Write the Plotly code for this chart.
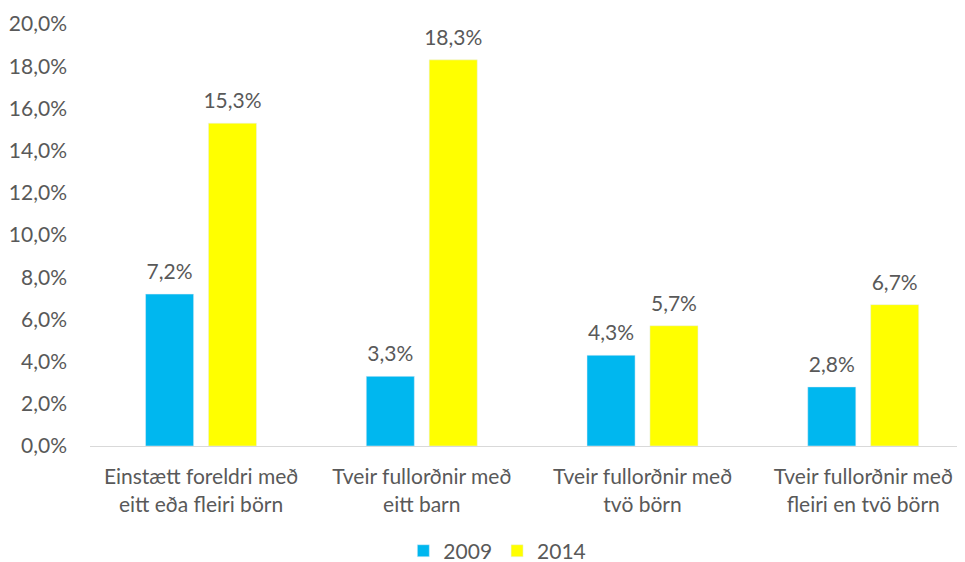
import plotly.graph_objects as go

categories = ["Einstætt foreldri með<br>eitt eða fleiri börn",
              "Tveir fullorðnir með<br>eitt barn",
              "Tveir fullorðnir með<br>tvö börn",
              "Tveir fullorðnir með<br>fleiri en tvö börn"]
series_names = ["2009", "2014"]
values_2009 = [7.2, 3.3, 4.3, 2.8]
values_2014 = [15.3, 18.3, 5.7, 6.7]
y_ticks = [0, 2, 4, 6, 8, 10, 12, 14, 16, 18, 20]
y_tick_labels = ["0,0%", "2,0%", "4,0%", "6,0%", "8,0%", "10,0%",
                 "12,0%", "14,0%", "16,0%", "18,0%", "20,0%"]
colors = ["#00B7EF", "#FFFF00"]

FONT = "Lato"
GRAY = "#595959"
FS = 21

fig = go.Figure()
for i, (name, vals) in enumerate(zip(series_names, [values_2009, values_2014])):
    fig.add_trace(go.Bar(name=name, x=categories, y=vals,
                         marker_color=colors[i], offsetgroup=str(i),
                         alignmentgroup="g", hoverinfo="skip"))
for i, (name, vals) in enumerate(zip(series_names, [values_2009, values_2014])):
    fig.add_trace(go.Scatter(name=name, x=categories, y=vals, showlegend=False,
                             mode="markers+text", offsetgroup=str(i), alignmentgroup="g",
                             marker=dict(size=14, opacity=0),
                             texttemplate="%{y:.1f}%", textposition="top center",
                             textfont=dict(size=FS, color=GRAY, family=FONT),
                             cliponaxis=False, hoverinfo="skip"))

fig.update_layout(
    width=957, height=554,
    margin=dict(l=82, r=2, t=16, b=116, autoexpand=False),
    paper_bgcolor="white", plot_bgcolor="white",
    separators=",.",
    barmode="group", bargap=0.43, bargroupgap=0.236,
    scattermode="group", scattergap=0.43,
    font=dict(family=FONT, color=GRAY, size=FS),
    showlegend=True,
    legend=dict(orientation="h", x=0.4666, xanchor="center", y=-0.249, yanchor="middle",
                itemwidth=30, font=dict(size=FS, color=GRAY, family=FONT),
                traceorder="normal"),
    xaxis=dict(range=[-0.503, 3.452], showgrid=False, showline=True, linecolor="#D9D9D9",
               linewidth=1, ticks="", automargin=False, ticklabelstandoff=12,
               tickfont=dict(size=FS, color=GRAY, family=FONT)),
    yaxis=dict(range=[0, 20], tickvals=y_ticks, ticktext=y_tick_labels,
               showgrid=False, zeroline=False, showline=False, ticks="",
               automargin=False, ticklabelstandoff=22,
               tickfont=dict(size=FS, color=GRAY, family=FONT)),
)

fig.write_html("out.html")
